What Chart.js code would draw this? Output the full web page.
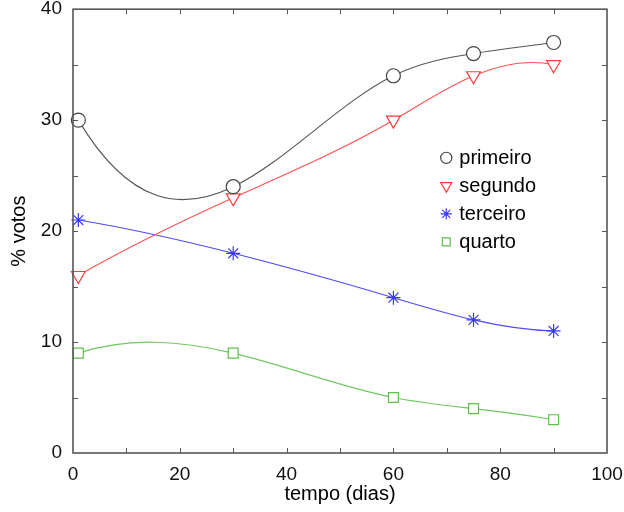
<!DOCTYPE html>
<html>
<head>
<meta charset="utf-8">
<script src="https://cdn.jsdelivr.net/npm/chart.js@4"></script>
<style>
  html, body { margin: 0; padding: 0; background: #fff; }
  #wrap { position: relative; width: 624px; height: 512px; }
</style>
</head>
<body>
<div id="wrap"><canvas id="chart"></canvas></div>
<script>
  // data: days and % of votes
  const dias = [1, 30, 60, 75, 90];
  const primeiro = [30, 24, 34, 36, 37];
  const segundo = [16, 23, 30, 34, 35];
  const terceiro = [21, 18, 14, 12, 11];
  const quarto = [9, 9, 5, 4, 3];
  const seriesNames = ["primeiro", "segundo", "terceiro", "quarto"];

  const FONT = "'Liberation Sans', Arial, sans-serif";

  function pts(vals) {
    return vals.map((v, i) => ({ x: dias[i], y: v }));
  }

  function ds(label, vals, color, lineColor, style, radius, rot) {
    return {
      label,
      data: pts(vals),
      borderColor: lineColor,
      borderWidth: 1.1,
      pointStyle: style,
      pointRadius: radius,
      pointHoverRadius: radius,
      pointRotation: rot || 0,
      pointBorderColor: color,
      pointBackgroundColor: "#fff",
      pointBorderWidth: 1.2,
      tension: 0.4,
      fill: false,
    };
  }

  // knot slopes of a cubic spline (Forsythe-Malcolm-Moler end conditions)
  function splineSlopes(x, y) {
    const n = x.length, nm1 = n - 1;
    const b = new Array(n).fill(0), c = new Array(n).fill(0), d = new Array(n).fill(0);
    d[0] = x[1] - x[0];
    c[1] = (y[1] - y[0]) / d[0];
    for (let i = 1; i < nm1; i++) {
      d[i] = x[i + 1] - x[i];
      b[i] = 2 * (d[i - 1] + d[i]);
      c[i + 1] = (y[i + 1] - y[i]) / d[i];
      c[i] = c[i + 1] - c[i];
    }
    b[0] = -d[0];
    b[nm1] = -d[n - 2];
    c[0] = c[nm1] = 0;
    if (n > 3) {
      c[0] = c[2] / (x[3] - x[1]) - c[1] / (x[2] - x[0]);
      c[nm1] = c[n - 2] / (x[nm1] - x[n - 3]) - c[n - 3] / (x[n - 2] - x[n - 4]);
      c[0] = c[0] * d[0] * d[0] / (x[3] - x[0]);
      c[nm1] = -c[nm1] * d[n - 2] * d[n - 2] / (x[nm1] - x[n - 4]);
    }
    for (let i = 1; i <= nm1; i++) {
      const t = d[i - 1] / b[i - 1];
      b[i] -= t * d[i - 1];
      c[i] -= t * c[i - 1];
    }
    c[nm1] /= b[nm1];
    for (let i = n - 2; i >= 0; i--) c[i] = (c[i] - d[i] * c[i + 1]) / b[i];
    const s = new Array(n);
    s[nm1] = (y[nm1] - y[n - 2]) / d[n - 2] + d[n - 2] * (c[n - 2] + 2 * c[nm1]);
    for (let i = 0; i < nm1; i++) s[i] = (y[i + 1] - y[i]) / d[i] - d[i] * (c[i + 1] + 2 * c[i]);
    return s;
  }

  // give Chart.js's own bezier line the control points of that spline
  const splinePlugin = {
    id: "cspline",
    setCps(chart) {
      const { x: sx, y: sy } = chart.scales;
      chart.data.datasets.forEach((d, di) => {
        const meta = chart.getDatasetMeta(di);
        if (meta.dataset && meta.dataset.updateControlPoints) meta.dataset.updateControlPoints(chart.chartArea, "x");
        const xs = d.data.map((p) => p.x), ys = d.data.map((p) => p.y);
        const sl = splineSlopes(xs, ys);
        meta.data.forEach((el, i) => {
          if (i > 0) {
            const h = xs[i] - xs[i - 1];
            el.cp1x = sx.getPixelForValue(xs[i] - h / 3);
            el.cp1y = sy.getPixelForValue(ys[i] - h * sl[i] / 3);
          }
          if (i < xs.length - 1) {
            const h = xs[i + 1] - xs[i];
            el.cp2x = sx.getPixelForValue(xs[i] + h / 3);
            el.cp2y = sy.getPixelForValue(ys[i] + h * sl[i] / 3);
          }
        });
      });
    },
    afterDatasetsUpdate(chart) { this.setCps(chart); },
    beforeDatasetsDraw(chart) { this.setCps(chart); },
  };

  // frame around the plot plus inward ticks on all four sides
  const framePlugin = {
    id: "frame",
    afterDraw(chart) {
      const { ctx, chartArea: a, scales } = chart;
      const tl = 5;
      ctx.save();
      ctx.strokeStyle = "#555";
      ctx.lineWidth = 1;
      for (let v = 10; v < 100; v += 10) {
        const px = Math.round(scales.x.getPixelForValue(v)) + 0.5;
        ctx.beginPath();
        ctx.moveTo(px, a.bottom); ctx.lineTo(px, a.bottom - tl);
        ctx.moveTo(px, a.top); ctx.lineTo(px, a.top + tl);
        ctx.stroke();
      }
      for (let v = 5; v < 40; v += 5) {
        const py = Math.round(scales.y.getPixelForValue(v)) + 0.5;
        ctx.beginPath();
        ctx.moveTo(a.left, py); ctx.lineTo(a.left + tl, py);
        ctx.moveTo(a.right, py); ctx.lineTo(a.right - tl, py);
        ctx.stroke();
      }
      ctx.lineWidth = 1.6;
      ctx.strokeRect(a.left, a.top, a.right - a.left, a.bottom - a.top);
      ctx.restore();
    },
  };

  // legend drawn inside the plot, symbol then name
  const legendPlugin = {
    id: "inLegend",
    afterDraw(chart) {
      const { ctx, scales } = chart;
      const x0 = scales.x.getPixelForValue(69.9);
      const y0 = scales.y.getPixelForValue(26.6);
      const step = 28;
      ctx.save();
      ctx.font = "20px " + FONT;
      ctx.textBaseline = "middle";
      chart.data.datasets.forEach((d, i) => {
        const y = y0 + i * step;
        ctx.strokeStyle = d.pointBorderColor;
        ctx.fillStyle = "#fff";
        ctx.lineWidth = 1.2;
        Chart.helpers.drawPoint(ctx, { pointStyle: d.pointStyle, rotation: d.pointRotation, radius: d.pointRadius * 0.8, borderWidth: 1.2 }, x0, y);
        ctx.fillStyle = "#000";
        ctx.fillText(seriesNames[i], x0 + 13, y + 1);
      });
      ctx.restore();
    },
  };

  new Chart(document.getElementById("chart"), {
    type: "line",
    data: {
      datasets: [
        ds("primeiro", primeiro, "#444", "#555", "circle", 7),
        ds("segundo", segundo, "#ff3a3a", "#ff5050", "triangle", 8, 180),
        ds("terceiro", terceiro, "#3a3aff", "#4a4af5", "star", 7),
        ds("quarto", quarto, "#5cc04a", "#70c860", "rect", 7),
      ],
    },
    options: {
      responsive: true,
      maintainAspectRatio: false,
      animation: false,
      layout: { padding: { top: 9, right: 17, left: 0, bottom: 0 } },
      plugins: { legend: { display: false }, tooltip: { enabled: false } },
      datasets: { line: { clip: false } },
      scales: {
        x: {
          type: "linear",
          min: 0, max: 100,
          grid: { display: false, drawTicks: false },
          border: { display: false },
          ticks: { stepSize: 20, color: "#111", padding: 10, font: { family: FONT, size: 19 } },
          title: { display: true, text: "tempo (dias)", color: "#000", padding: { top: 4, bottom: 6 }, font: { family: FONT, size: 20 } },
          afterFit(s) { s.height = 59; s.paddingLeft = 0; s.paddingRight = 0; },
        },
        y: {
          min: 0, max: 40,
          grid: { display: false, drawTicks: false },
          border: { display: false },
          ticks: { stepSize: 10, color: "#111", padding: 11, font: { family: FONT, size: 19 } },
          title: { display: true, text: "% votos", color: "#000", padding: { top: 7, bottom: 4 }, font: { family: FONT, size: 20 } },
          afterFit(s) { s.width = 73; s.paddingTop = 0; s.paddingBottom = 0; },
        },
      },
    },
    plugins: [splinePlugin, framePlugin, legendPlugin],
  });
</script>
</body>
</html>
